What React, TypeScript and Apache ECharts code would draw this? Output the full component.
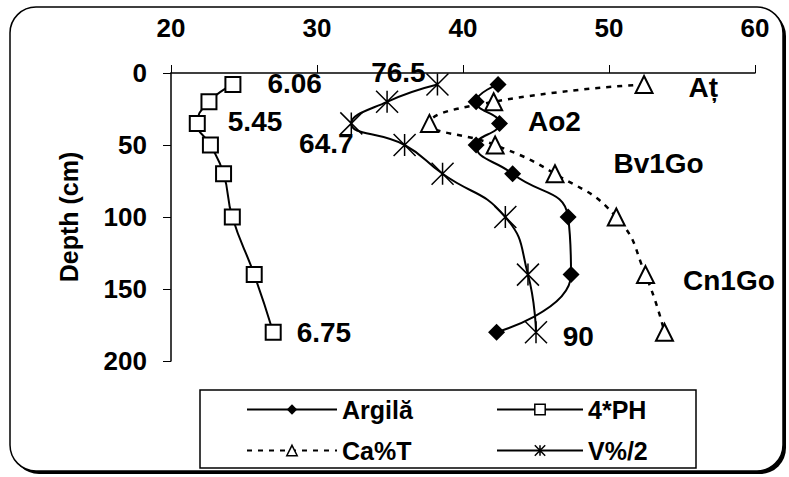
import React, { useEffect, useRef } from 'react';
import * as echarts from 'echarts';

// Depths (cm) of the sampled horizons
const depths = [8, 20, 35, 50, 70, 100, 140, 180];

// Series values (x)
const argila = [42.4, 40.9, 42.5, 40.9, 43.4, 47.2, 47.4, 42.3];
const ph4 = [24.24, 22.6, 21.8, 22.7, 23.6, 24.2, 25.7, 27.0];
const caT = [52.4, 42.1, 37.7, 42.2, 46.3, 50.5, 52.5, 53.8];
const v2 = [38.25, 34.8, 32.35, 36.0, 38.6, 42.9, 44.45, 45.0];

// Text annotations attached to points
const argilaLabels = [null, null, 'Ao2', null, null, null, null, null];
const ph4Labels = ['6.06', null, '5.45', null, null, null, null, '6.75'];
const caTLabels = ['Aț', null, null, null, 'Bv1Go', null, 'Cn1Go', null];
const v2Labels = ['76.5', null, '64.7', null, null, null, null, '90'];

const seriesNames = ['Argilă', '4*PH', 'Ca%T', 'V%/2'];

const FONT = '"Liberation Sans", Arial, Helvetica, sans-serif';

type Place = { position: string; distance?: number; offset?: number[] };

function buildData(xs: number[], texts: (string | null)[], places: Record<number, Place>) {
  return xs.map((x, i) => {
    const item: any = { value: [x, depths[i]] };
    const t = texts[i];
    if (t) {
      item.label = { show: true, formatter: t, ...places[i] };
    }
    return item;
  });
}

const labelStyle = {
  show: false,
  fontFamily: FONT,
  fontSize: 28,
  fontWeight: 'bold',
  color: '#000',
};

const starPath = 'path://M0,0L20,20M20,0L0,20M10,0L10,20';
const SMOOTH = 0.5;

export default function App() {
  const ref = useRef<HTMLDivElement>(null);
  useEffect(() => {
    if (!ref.current) return;
    const chart = echarts.init(ref.current, null, { renderer: 'svg' });
    const tickFont = { fontFamily: FONT, fontSize: 26, fontWeight: 'bold', color: '#000' };
    const legendText = { fontFamily: FONT, fontSize: 25, fontWeight: 'bold', color: '#000' };
    const legendCommon = {
      orient: 'vertical',
      top: 392,
      itemHeight: 13,
      itemGap: 16,
      textStyle: legendText,
      lineStyle: { width: 2 },
      itemStyle: { borderWidth: 1.5 },
    };
    const option: any = {
      animation: false,
      backgroundColor: '#fff',
      graphic: [
        {
          type: 'rect',
          z: -20,
          shape: { x: 13, y: 10, width: 773, height: 464, r: 26 },
          style: { fill: '#000' },
        },
        {
          type: 'rect',
          z: -19,
          shape: { x: 10, y: 7, width: 773, height: 464, r: 26 },
          style: { fill: '#fff', stroke: '#000', lineWidth: 1.5 },
        },
        {
          type: 'rect',
          z: -18,
          shape: { x: 200, y: 390, width: 496, height: 78 },
          style: { fill: 'none', stroke: '#000', lineWidth: 1.5 },
        },
      ],
      grid: { left: 171, top: 73, right: 34, bottom: 116, containLabel: false },
      xAxis: {
        type: 'value',
        position: 'top',
        min: 20,
        max: 60,
        interval: 10,
        splitLine: { show: false },
        axisLine: { show: true, lineStyle: { color: '#000', width: 1.5 } },
        axisTick: { show: true, length: 8, lineStyle: { color: '#000', width: 1 } },
        axisLabel: { margin: 32, ...tickFont },
      },
      yAxis: {
        type: 'value',
        inverse: true,
        min: 0,
        max: 200,
        interval: 50,
        name: 'Depth (cm)',
        nameLocation: 'middle',
        nameGap: 90,
        nameRotate: 90,
        nameTextStyle: { fontFamily: FONT, fontSize: 25, fontWeight: 'bold', color: '#000' },
        splitLine: { show: false },
        axisLine: { show: true, onZero: false, lineStyle: { color: '#000', width: 1.5 } },
        axisTick: { show: true, length: 8, lineStyle: { color: '#000', width: 1 } },
        axisLabel: { margin: 24, ...tickFont },
      },
      legend: [
        {
          ...legendCommon,
          left: 241,
          data: [seriesNames[0], seriesNames[2]],
          itemWidth: 90,
        },
        {
          ...legendCommon,
          left: 491,
          data: [seriesNames[1], seriesNames[3]],
          itemWidth: 86,
        },
      ],
      series: [
        {
          name: seriesNames[0],
          type: 'line',
          smooth: SMOOTH,
          symbol: 'diamond',
          symbolSize: 17,
          lineStyle: { color: '#000', width: 2 },
          itemStyle: { color: '#000' },
          label: labelStyle,
          data: buildData(argila, argilaLabels, {
            2: { position: 'right', distance: 20, offset: [0, -2] },
          }),
          z: 4,
        },
        {
          name: seriesNames[1],
          type: 'line',
          smooth: SMOOTH,
          symbol: 'rect',
          symbolSize: 15,
          lineStyle: { color: '#000', width: 2 },
          itemStyle: { color: '#fff', borderColor: '#000', borderWidth: 2 },
          label: labelStyle,
          data: buildData(ph4, ph4Labels, {
            0: { position: 'right', distance: 26, offset: [0, -1] },
            2: { position: 'right', distance: 22, offset: [0, -2] },
            7: { position: 'right', distance: 15, offset: [0, 0] },
          }),
          z: 3,
        },
        {
          name: seriesNames[2],
          type: 'line',
          smooth: SMOOTH,
          symbol: 'triangle',
          symbolSize: 17,
          lineStyle: { color: '#000', width: 2.5, type: [5, 6] },
          itemStyle: { color: '#fff', borderColor: '#000', borderWidth: 2 },
          label: labelStyle,
          data: buildData(caT, caTLabels, {
            0: { position: 'right', distance: 35, offset: [0, 3] },
            4: { position: 'right', distance: 49, offset: [0, -10] },
            6: { position: 'right', distance: 28, offset: [0, 6] },
          }),
          z: 2,
        },
        {
          name: seriesNames[3],
          type: 'line',
          smooth: SMOOTH,
          symbol: starPath,
          symbolSize: 22,
          lineStyle: { color: '#000', width: 2 },
          itemStyle: { color: '#000', borderColor: '#000', borderWidth: 1.5 },
          label: labelStyle,
          data: buildData(v2, v2Labels, {
            0: { position: 'left', distance: 0, offset: [0, -12] },
            2: { position: 'left', distance: 0, offset: [14, 20] },
            7: { position: 'right', distance: 15, offset: [0, 4] },
          }),
          z: 3,
        },
      ],
    };
    chart.setOption(option);
    return () => {
      chart.dispose();
    };
  }, []);
  return (
    <div
      ref={ref}
      style={{ position: 'fixed', left: 0, top: 0, width: 789, height: 477 }}
    />
  );
}
